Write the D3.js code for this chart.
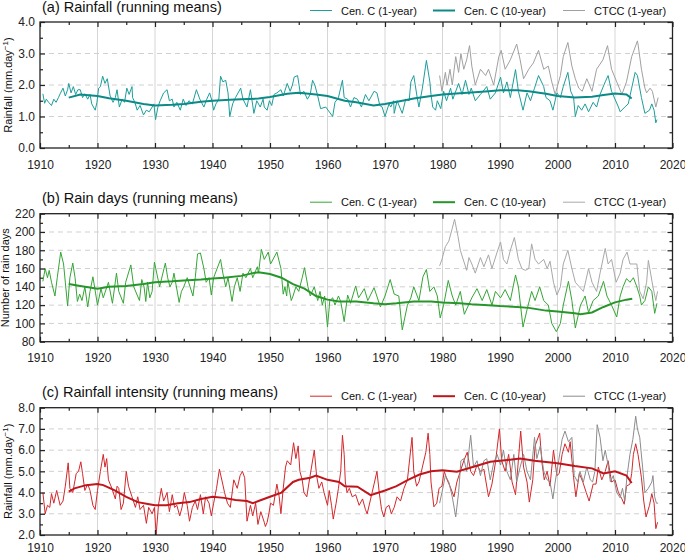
<!DOCTYPE html>
<html>
<head>
<meta charset="utf-8">
<script src="https://cdn.jsdelivr.net/npm/d3@7"></script>
<style>
  body { margin: 0; background: #fff; }
  svg { display: block; font-family: "Liberation Sans", Arial, sans-serif; }
</style>
</head>
<body>
<svg id="chart" width="685" height="555"></svg>
<script>
// ---- data: [year, value] ----
const rainCen1 = [[1910.5,1.72],[1910.8,1.42],[1911.1,1.55],[1911.5,1.45],[1912.0,1.35],[1912.4,1.55],[1912.8,1.45],[1913.2,1.6],[1913.5,1.72],[1914.0,1.9],[1914.4,1.65],[1914.8,1.85],[1915.0,2.05],[1915.4,1.75],[1915.8,1.95],[1916.2,1.7],[1916.6,1.85],[1917.0,1.85],[1917.4,1.6],[1917.8,1.72],[1918.3,1.55],[1918.7,1.7],[1919.0,1.4],[1919.6,1.2],[1919.9,1.45],[1920.2,1.9],[1920.5,1.95],[1920.9,2.28],[1921.3,2.05],[1921.7,2.2],[1922.2,1.65],[1922.7,1.45],[1923.1,1.6],[1923.4,1.85],[1923.8,1.3],[1924.3,1.55],[1924.7,1.45],[1925.1,1.9],[1925.5,1.7],[1926.0,1.95],[1926.1,1.6],[1926.5,1.45],[1926.9,1.2],[1927.4,1.35],[1928.0,1.05],[1928.5,1.2],[1929.0,1.15],[1929.5,1.3],[1929.8,1.4],[1930.1,0.9],[1930.5,1.3],[1930.9,1.5],[1931.5,1.75],[1932.1,1.85],[1932.5,1.5],[1933.0,1.55],[1933.3,1.3],[1933.8,1.45],[1934.4,1.2],[1934.9,1.55],[1935.4,1.35],[1935.9,1.5],[1936.5,1.4],[1937.2,1.85],[1937.8,1.55],[1938.5,1.3],[1939.0,1.55],[1939.5,1.75],[1939.9,1.5],[1940.2,1.2],[1940.6,1.4],[1941.1,1.55],[1941.4,2.28],[1941.8,2.1],[1942.3,2.15],[1942.7,1.75],[1943.0,1.0],[1943.5,1.4],[1944.0,1.6],[1944.9,1.9],[1945.3,1.55],[1946.0,1.3],[1946.6,1.85],[1947.2,1.1],[1947.7,1.5],[1948.3,1.3],[1948.8,1.55],[1949.0,1.3],[1949.5,1.2],[1949.9,1.5],[1950.3,1.35],[1950.7,1.7],[1951.2,1.75],[1951.9,1.85],[1952.3,1.65],[1953.0,2.05],[1953.5,1.8],[1953.9,2.0],[1954.2,2.25],[1954.8,2.3],[1955.3,1.7],[1955.9,1.8],[1956.5,1.55],[1957.0,1.7],[1957.4,2.15],[1957.8,2.0],[1958.3,1.65],[1958.8,1.25],[1959.7,1.3],[1960.9,1.0],[1961.3,1.45],[1961.9,1.6],[1962.6,2.15],[1962.9,1.6],[1963.5,1.55],[1964.0,1.3],[1964.6,1.6],[1965.2,1.55],[1965.9,1.3],[1966.6,1.7],[1967.2,1.5],[1968.1,1.8],[1968.6,1.75],[1969.1,1.35],[1969.5,1.3],[1970.0,1.0],[1970.7,1.4],[1971.0,1.3],[1971.5,1.5],[1971.6,1.1],[1972.1,1.5],[1973.0,1.1],[1973.6,1.55],[1974.2,1.5],[1974.5,2.1],[1975.0,2.3],[1975.6,1.6],[1975.9,1.3],[1976.5,1.9],[1977.2,2.78],[1977.8,2.1],[1978.0,1.7],[1978.3,1.3],[1978.8,1.2],[1979.1,1.5],[1979.7,1.25],[1980.2,1.8],[1980.7,1.5],[1981.4,1.9],[1981.8,1.55],[1982.8,2.05],[1983.4,1.7],[1984.0,2.15],[1984.6,1.7],[1985.0,1.9],[1985.7,1.5],[1986.6,1.7],[1987.7,1.95],[1988.3,1.55],[1989.2,1.75],[1990.1,2.25],[1990.6,1.75],[1991.2,2.1],[1991.8,1.6],[1992.7,2.49],[1993.2,1.8],[1994.0,1.2],[1994.7,1.75],[1995.3,1.5],[1996.0,1.9],[1996.7,2.3],[1997.6,1.95],[1998.0,1.6],[1998.7,1.5],[1999.2,1.2],[1999.9,1.75],[2000.5,1.6],[2001.0,1.95],[2001.8,2.4],[2002.3,1.8],[2002.8,1.6],[2003.1,1.0],[2003.6,1.35],[2004.2,1.2],[2004.8,1.4],[2005.4,1.15],[2006.2,1.45],[2006.8,1.3],[2007.4,1.7],[2008.3,2.1],[2008.8,2.3],[2009.4,1.8],[2010.6,1.3],[2010.9,1.15],[2011.7,1.3],[2012.3,1.4],[2012.9,1.9],[2013.5,2.4],[2013.9,2.3],[2014.6,1.6],[2015.2,1.1],[2016.0,1.2],[2016.4,1.4],[2016.8,1.2],[2017.1,0.8],[2017.3,0.9]];
const rainCen10 = [[1915,1.6],[1917,1.7],[1920,1.65],[1922,1.58],[1925,1.5],[1928,1.4],[1930,1.35],[1933,1.37],[1935,1.4],[1938,1.47],[1940,1.5],[1943,1.53],[1945,1.55],[1948,1.57],[1950,1.62],[1953,1.72],[1955,1.75],[1958,1.7],[1960,1.65],[1963,1.5],[1965,1.45],[1968,1.35],[1970,1.4],[1973,1.5],[1975,1.57],[1978,1.65],[1980,1.7],[1983,1.74],[1985,1.76],[1988,1.8],[1990,1.83],[1993,1.83],[1995,1.8],[1998,1.72],[2000,1.65],[2003,1.6],[2006,1.63],[2008,1.68],[2010,1.73],[2012,1.7],[2012.9,1.57]];
const rainCtcc = [[1979.5,2.3],[1979.9,1.8],[1980.5,2.4],[1980.8,2.0],[1981.3,2.5],[1981.7,2.0],[1982.3,2.9],[1982.8,2.4],[1983.2,3.0],[1983.7,2.5],[1984.2,2.8],[1984.7,3.25],[1985.1,2.6],[1985.7,2.0],[1986.6,2.5],[1987.5,2.3],[1988.0,2.5],[1988.9,2.0],[1989.8,2.9],[1990.2,3.1],[1990.9,2.5],[1991.8,2.8],[1992.9,3.3],[1993.5,2.8],[1994.1,2.2],[1995.0,2.5],[1995.8,2.7],[1996.7,3.1],[1997.6,2.5],[1998.4,2.6],[1999.0,2.1],[1999.6,1.7],[2000.5,2.3],[2001.0,2.9],[2001.8,3.35],[2002.5,2.6],[2003.1,2.2],[2003.7,1.9],[2004.3,1.8],[2005.1,2.2],[2006.0,1.8],[2006.8,2.5],[2007.9,2.8],[2008.7,3.25],[2009.4,2.5],[2010.3,2.1],[2011.2,1.7],[2012.0,2.1],[2012.9,2.9],[2013.9,3.4],[2014.0,3.3],[2014.6,2.5],[2015.2,1.9],[2015.5,1.75],[2016.1,1.9],[2016.5,1.8],[2017.1,1.3],[2017.5,1.6]];

const daysCen1 = [[1910.5,146],[1910.9,160],[1911.3,150],[1911.6,158],[1912.0,145],[1912.6,130],[1913.0,150],[1913.6,178],[1914.1,165],[1914.8,119],[1915.2,150],[1915.7,166],[1916.1,150],[1916.5,124],[1916.9,132],[1917.3,125],[1917.8,140],[1918.3,118],[1918.7,135],[1919.2,151],[1920.0,120],[1920.6,138],[1921.0,128],[1921.9,145],[1922.6,122],[1923.3,155],[1923.7,135],[1924.5,122],[1924.9,145],[1925.8,164],[1926.3,140],[1927.3,125],[1927.7,148],[1928.1,140],[1928.4,124],[1928.7,145],[1929.1,128],[1929.5,135],[1929.9,167],[1930.3,155],[1930.8,140],[1931.8,166],[1932.2,150],[1932.6,140],[1933.0,145],[1933.3,155],[1934.2,123],[1934.6,135],[1935.0,140],[1935.6,150],[1936.6,130],[1937.0,150],[1937.4,176],[1937.9,177],[1938.5,160],[1938.9,145],[1939.4,150],[1939.8,131],[1940.2,150],[1941.4,170],[1941.8,155],[1942.3,140],[1942.7,150],[1943.4,124],[1943.8,140],[1944.3,150],[1944.8,135],[1945.3,155],[1945.8,150],[1946.6,160],[1947.0,150],[1947.8,162],[1948.0,155],[1948.5,181],[1949.0,170],[1949.7,178],[1950.1,165],[1951.2,178],[1951.9,160],[1952.3,132],[1952.6,140],[1952.9,130],[1953.1,146],[1953.7,125],[1954.0,130],[1954.5,140],[1955.0,135],[1955.6,150],[1956.0,161],[1956.6,140],[1957.0,130],[1957.7,140],[1958.3,125],[1958.7,135],[1959.1,120],[1959.5,130],[1960.0,96],[1960.4,125],[1960.9,128],[1961.3,120],[1961.9,130],[1962.3,124],[1962.9,102],[1963.5,131],[1964.0,122],[1964.9,141],[1965.4,128],[1966.4,138],[1967.0,125],[1968.1,139],[1969.2,118],[1970.0,130],[1970.9,148],[1971.6,132],[1972.4,130],[1973.0,93],[1973.9,120],[1974.5,128],[1975.0,140],[1975.9,125],[1976.6,151],[1977.2,159],[1977.8,135],[1978.5,140],[1979.1,130],[1979.6,106],[1980.2,120],[1981.0,147],[1981.7,130],[1982.3,120],[1983.1,135],[1983.8,110],[1985.1,128],[1986.0,138],[1986.9,125],[1987.7,137],[1988.6,120],[1989.2,135],[1990.1,128],[1990.9,137],[1991.8,125],[1992.7,153],[1993.2,140],[1994.0,96],[1994.7,115],[1995.5,135],[1996.1,125],[1996.9,140],[1997.6,125],[1998.4,120],[1999.0,100],[1999.8,91],[2000.5,100],[2001.0,120],[2001.9,146],[2002.5,125],[2003.1,95],[2004.0,120],[2004.8,130],[2005.4,112],[2006.2,125],[2007.1,130],[2008.0,146],[2008.6,130],[2009.4,120],[2010.3,107],[2010.9,130],[2011.4,140],[2012.0,149],[2012.6,145],[2013.2,150],[2013.8,140],[2014.3,130],[2014.6,120],[2015.2,125],[2015.8,140],[2016.4,135],[2016.9,111],[2017.3,122]];
const daysCen10 = [[1915,143],[1917,141],[1920,138],[1922,140],[1925,141],[1928,143],[1930,145],[1933,146],[1935,147],[1938,148],[1940,149],[1942,150],[1945,152],[1947,155],[1948,156],[1950,154],[1952,150],[1954,143],[1956,138],[1958,130],[1960,126],[1962,124],[1965,124],[1968,122],[1970,121],[1972,122],[1975,124],[1978,124],[1980,123],[1983,122],[1985,121],[1988,120],[1990,119],[1993,118],[1995,117],[1998,114],[2000,113],[2003,111],[2004,110],[2006,112],[2008,118],[2010,123],[2012,126],[2013,127]];
const daysCtcc = [[1979.5,163],[1979.9,170],[1980.5,184],[1981.1,190],[1981.7,204],[1982.1,214],[1982.7,195],[1983.1,180],[1983.7,168],[1984.2,158],[1984.6,172],[1985.1,165],[1985.7,155],[1986.6,172],[1987.2,162],[1988.0,175],[1988.6,160],[1989.5,178],[1990.1,189],[1990.6,170],[1991.2,165],[1991.8,180],[1992.5,194],[1993.2,170],[1993.8,160],[1994.4,158],[1995.0,160],[1995.5,187],[1996.1,170],[1996.7,165],[1997.6,170],[1998.2,160],[1998.7,168],[1999.3,145],[1999.9,131],[2000.5,140],[2001.0,165],[2001.8,180],[2002.5,160],[2003.1,145],[2003.8,140],[2004.5,135],[2005.4,160],[2006.0,145],[2006.8,135],[2007.4,155],[2008.3,182],[2008.8,165],[2009.4,170],[2010.2,145],[2010.9,155],[2011.4,170],[2012.1,178],[2012.6,165],[2013.2,165],[2013.8,165],[2014.3,135],[2014.9,127],[2015.5,145],[2015.8,169],[2016.6,140],[2017.1,125],[2017.4,135]];

const intCen1 = [[1910.5,4.0],[1910.9,3.0],[1911.3,3.4],[1911.7,3.3],[1912.0,3.95],[1912.4,3.5],[1912.9,4.1],[1913.5,3.4],[1914.0,3.6],[1914.4,4.3],[1914.9,5.4],[1915.2,4.2],[1915.7,4.0],[1916.3,4.9],[1916.7,5.0],[1917.1,5.45],[1917.4,4.9],[1917.8,4.1],[1918.3,4.4],[1918.7,4.1],[1919.2,3.4],[1919.6,3.2],[1920.0,4.1],[1920.5,5.0],[1921.0,5.8],[1921.3,5.2],[1921.6,5.6],[1921.9,4.6],[1922.5,4.2],[1923.1,3.7],[1923.4,4.3],[1923.7,4.2],[1924.1,3.2],[1924.5,3.5],[1925.0,5.0],[1925.4,4.3],[1926.0,3.8],[1926.6,3.3],[1927.0,3.8],[1927.4,3.2],[1928.0,3.4],[1928.5,2.55],[1928.9,3.3],[1929.5,3.0],[1929.9,3.3],[1930.2,2.0],[1930.6,3.4],[1931.1,4.2],[1931.5,3.6],[1932.1,4.0],[1932.5,3.1],[1933.0,3.9],[1933.4,3.3],[1933.8,3.4],[1934.3,2.9],[1934.7,3.3],[1935.1,4.0],[1935.6,3.4],[1936.0,2.65],[1936.5,3.3],[1937.0,3.6],[1937.4,3.2],[1937.9,3.9],[1938.4,3.0],[1938.8,3.8],[1939.4,3.5],[1939.8,2.9],[1940.2,3.5],[1940.7,4.2],[1941.2,5.1],[1941.7,4.5],[1942.1,4.0],[1942.6,3.5],[1943.1,3.3],[1943.7,4.6],[1944.3,4.2],[1944.8,4.8],[1945.2,5.0],[1945.6,4.7],[1946.0,2.65],[1946.6,3.4],[1947.0,2.9],[1947.5,3.5],[1947.9,2.5],[1948.4,3.1],[1949.0,2.6],[1949.2,2.4],[1949.5,2.6],[1949.8,3.0],[1950.1,3.5],[1950.6,3.4],[1951.2,4.4],[1951.6,3.8],[1951.9,3.0],[1952.3,4.2],[1952.7,5.2],[1953.0,5.5],[1953.6,5.3],[1954.1,6.35],[1954.5,5.6],[1954.9,6.2],[1955.2,5.0],[1955.6,4.6],[1955.9,4.0],[1956.4,3.8],[1956.8,4.5],[1957.7,6.0],[1958.1,4.8],[1958.5,4.2],[1959.0,4.5],[1959.4,4.0],[1960.0,3.4],[1960.3,4.1],[1960.7,3.4],[1961.0,2.75],[1961.5,3.5],[1961.9,4.2],[1962.3,5.0],[1962.6,6.7],[1962.9,5.8],[1963.1,4.5],[1963.4,4.0],[1963.8,4.2],[1964.3,3.8],[1964.9,3.9],[1965.5,3.4],[1966.1,3.7],[1966.6,3.2],[1966.9,3.0],[1967.5,3.7],[1968.1,4.4],[1968.6,5.0],[1969.0,4.0],[1969.4,3.2],[1969.8,2.85],[1970.2,3.3],[1970.7,3.4],[1971.1,3.0],[1971.6,3.3],[1972.1,3.8],[1972.7,3.6],[1973.3,4.2],[1973.9,4.6],[1974.7,6.6],[1975.0,5.0],[1975.5,4.3],[1975.9,4.5],[1976.5,5.2],[1977.1,5.9],[1977.5,6.8],[1977.8,5.8],[1978.0,4.5],[1978.5,3.33],[1979.0,3.5],[1979.4,4.2],[1979.9,4.3],[1980.3,5.0],[1980.8,4.6],[1981.3,4.3],[1982.0,3.8],[1982.5,4.5],[1983.1,5.0],[1983.7,5.5],[1984.3,5.9],[1984.9,5.0],[1985.4,4.8],[1986.0,5.3],[1986.6,5.0],[1987.2,5.1],[1988.0,3.8],[1988.6,4.4],[1989.2,5.4],[1989.9,7.0],[1990.3,5.5],[1990.9,5.0],[1991.5,5.8],[1992.1,4.5],[1992.7,3.9],[1993.1,5.2],[1993.6,6.9],[1994.1,5.2],[1994.7,4.5],[1995.1,3.55],[1995.7,4.6],[1996.1,6.2],[1996.9,6.8],[1997.3,5.4],[1997.7,4.6],[1998.2,5.0],[1998.7,4.3],[1999.3,6.0],[1999.9,4.8],[2000.3,4.9],[2000.8,5.8],[2001.3,6.3],[2001.9,5.9],[2002.2,6.4],[2002.8,4.7],[2003.2,3.8],[2003.8,4.9],[2004.4,4.5],[2005.0,4.0],[2005.5,3.6],[2006.2,4.4],[2006.7,4.4],[2007.1,5.2],[2007.7,4.6],[2008.3,5.0],[2008.8,5.5],[2009.4,4.5],[2010.0,4.6],[2010.6,4.0],[2011.2,3.7],[2011.6,3.45],[2012.0,4.3],[2012.6,4.4],[2012.9,4.9],[2013.2,5.8],[2013.6,6.3],[2014.0,5.8],[2014.6,4.7],[2015.0,3.6],[2015.4,2.85],[2016.0,3.4],[2016.4,3.95],[2016.8,3.5],[2017.1,2.3],[2017.4,2.6]];
const intCen10 = [[1915,4.05],[1916,4.2],[1918,4.35],[1920,4.4],[1921,4.35],[1923,4.1],[1925,3.8],[1927,3.55],[1929,3.45],[1930,3.4],[1932,3.4],[1934,3.5],[1936,3.55],[1938,3.7],[1940,3.8],[1942,3.75],[1944,3.65],[1946,3.6],[1947,3.5],[1948,3.6],[1950,3.8],[1952,4.0],[1954,4.5],[1955,4.6],[1957,4.7],[1958,4.8],[1960,4.6],[1962,4.5],[1963,4.3],[1965.2,4.28],[1967.5,3.88],[1970,4.1],[1972,4.3],[1974,4.6],[1976,4.85],[1978,5.0],[1980,5.05],[1982.5,4.98],[1985.4,5.22],[1988.3,5.45],[1990,5.5],[1993.5,5.6],[1996,5.5],[2000,5.38],[2003,5.25],[2006,5.14],[2008,4.9],[2010,5.0],[2012,4.8],[2012.9,4.45]];
const intCtcc = [[1979.5,3.5],[1979.9,4.0],[1980.5,4.8],[1981.1,4.5],[1981.7,3.8],[1982.3,2.85],[1982.8,4.0],[1983.2,5.5],[1983.7,5.6],[1984.2,5.0],[1984.9,6.7],[1985.4,5.2],[1986.0,5.5],[1986.6,4.8],[1987.2,5.5],[1987.7,5.6],[1988.3,4.6],[1988.9,5.4],[1989.5,5.8],[1990.1,5.3],[1990.6,6.0],[1991.2,5.0],[1991.8,4.6],[1992.4,5.8],[1992.9,4.5],[1993.5,5.2],[1994.1,5.8],[1994.7,5.0],[1995.3,4.6],[1996.0,6.6],[1996.4,5.6],[1997.0,6.2],[1997.6,5.0],[1998.2,4.6],[1998.7,4.5],[1999.2,3.7],[1999.6,4.5],[2000.2,5.5],[2000.8,6.5],[2001.3,6.9],[2001.9,6.4],[2002.5,6.6],[2002.9,4.8],[2003.5,4.5],[2003.9,5.0],[2004.5,4.5],[2005.1,5.2],[2005.7,4.6],[2006.1,4.5],[2006.5,5.0],[2006.9,7.2],[2007.4,6.6],[2007.9,5.5],[2008.3,6.0],[2008.8,5.3],[2009.2,4.5],[2009.7,4.8],[2010.3,4.0],[2010.9,3.75],[2011.3,4.2],[2011.7,3.6],[2012.1,4.8],[2012.6,5.8],[2013.1,6.5],[2013.6,7.6],[2013.9,7.0],[2014.3,6.6],[2014.8,5.2],[2015.2,4.0],[2015.8,4.2],[2016.4,4.5],[2016.6,4.8],[2016.9,3.8],[2017.2,3.5],[2017.5,3.5]];

const legendNames = ["Cen. C (1-year)", "Cen. C (10-year)", "CTCC (1-year)"];
const xMajor = d3.range(1910, 2021, 10);
const xMinor = d3.range(1915, 2020, 10);

const panels = [
  { title: "(a) Rainfall (running means)", yLabel: "Rainfall (mm.day", sup: true,
    top: 22, bottom: 148, yDomain: [0, 4], yStep: 1, yMinorStep: 0.5, fmt: d3.format(".1f"), labelX: 12, pad: 12,
    c1: "#1c9e9b", c10: "#0b8a88", ctcc: "#a0a0a0", one: rainCen1, ten: rainCen10, other: rainCtcc },
  { title: "(b) Rain days (running means)", yLabel: "Number of rain days", sup: false,
    top: 213.7, bottom: 341.7, yDomain: [80, 220], yStep: 20, yMinorStep: 10, fmt: d3.format("d"), labelX: 9, pad: 12,
    c1: "#35a535", c10: "#27962a", ctcc: "#a8a8a8", one: daysCen1, ten: daysCen10, other: daysCtcc },
  { title: "(c) Rainfall intensity (running means)", yLabel: "Rainfall (mm.day", sup: true,
    top: 407.7, bottom: 535, yDomain: [2, 8], yStep: 1, yMinorStep: 0.5, fmt: d3.format(".1f"), labelX: 12, pad: 8.5,
    c1: "#d4272b", c10: "#bf161c", ctcc: "#8c8c8c", one: intCen1, ten: intCen10, other: intCtcc }
];

const svg = d3.select("#chart");
const x = d3.scaleLinear().domain([1910, 2020]).range([40, 672.5]);

function styleAxis(sel) {
  sel.select(".domain").remove();
  sel.selectAll(".tick line").attr("stroke", "#222").attr("stroke-width", 1.2);
  sel.selectAll(".tick text").attr("fill", "#222").attr("font-size", 12)
    .attr("font-family", "Liberation Sans, Arial, sans-serif");
}

panels.forEach(p => {
  const y = d3.scaleLinear().domain(p.yDomain).range([p.bottom, p.top]);
  const yMajor = d3.range(p.yDomain[0], p.yDomain[1] + p.yStep / 2, p.yStep);
  const yMinor = d3.range(p.yDomain[0] + p.yMinorStep, p.yDomain[1], p.yStep);
  const g = svg.append("g");

  // grid
  g.selectAll(null).data(xMajor.slice(1, -1)).join("line")
    .attr("x1", d => x(d)).attr("x2", d => x(d))
    .attr("y1", p.top).attr("y2", p.bottom)
    .attr("stroke", "#d6d6d6").attr("stroke-width", 1);
  g.selectAll(null).data(yMajor.slice(1, -1)).join("line")
    .attr("x1", x.range()[0]).attr("x2", x.range()[1])
    .attr("y1", d => y(d)).attr("y2", d => y(d))
    .attr("stroke", "#d0d0d0").attr("stroke-width", 1).attr("stroke-dasharray", "5,4");

  // series
  const line = d3.line().x(d => x(d[0])).y(d => y(d[1]));
  g.append("path").datum(p.one).attr("d", line)
    .attr("fill", "none").attr("stroke", p.c1).attr("stroke-width", 1);
  g.append("path").datum(p.other).attr("d", line)
    .attr("fill", "none").attr("stroke", p.ctcc).attr("stroke-width", 1);
  g.append("path").datum(p.ten).attr("d", line)
    .attr("fill", "none").attr("stroke", p.c10).attr("stroke-width", 2);

  // axes: ticks point inward
  g.append("g").attr("transform", `translate(0,${p.bottom})`)
    .call(d3.axisBottom(x).tickValues(xMajor).tickFormat(d3.format("d")).tickSize(-5).tickPadding(p.pad))
    .call(styleAxis);
  g.append("g").attr("transform", `translate(0,${p.bottom})`)
    .call(d3.axisBottom(x).tickValues(xMinor).tickFormat("").tickSize(-3)).call(styleAxis);
  g.append("g").attr("transform", `translate(0,${p.top})`)
    .call(d3.axisTop(x).tickValues(xMajor).tickFormat("").tickSize(-5)).call(styleAxis);
  g.append("g").attr("transform", `translate(0,${p.top})`)
    .call(d3.axisTop(x).tickValues(xMinor).tickFormat("").tickSize(-3)).call(styleAxis);

  g.append("g").attr("transform", `translate(${x.range()[0]},0)`)
    .call(d3.axisLeft(y).tickValues(yMajor).tickFormat(p.fmt).tickSize(-5).tickPadding(5))
    .call(styleAxis);
  g.append("g").attr("transform", `translate(${x.range()[0]},0)`)
    .call(d3.axisLeft(y).tickValues(yMinor).tickFormat("").tickSize(-3)).call(styleAxis);
  g.append("g").attr("transform", `translate(${x.range()[1]},0)`)
    .call(d3.axisRight(y).tickValues(yMajor).tickFormat("").tickSize(-5)).call(styleAxis);
  g.append("g").attr("transform", `translate(${x.range()[1]},0)`)
    .call(d3.axisRight(y).tickValues(yMinor).tickFormat("").tickSize(-3)).call(styleAxis);

  // frame
  g.append("rect")
    .attr("x", x.range()[0]).attr("y", p.top)
    .attr("width", x.range()[1] - x.range()[0]).attr("height", p.bottom - p.top)
    .attr("fill", "none").attr("stroke", "#222").attr("stroke-width", 1.3);

  // title
  g.append("text").attr("x", 42).attr("y", p.top - 10.5)
    .attr("font-size", 14.5).attr("fill", "#111").text(p.title);

  // y label
  const yl = g.append("text")
    .attr("transform", `translate(${p.labelX},${(p.top + p.bottom) / 2}) rotate(-90)`)
    .attr("text-anchor", "middle").attr("font-size", 11).attr("fill", "#111");
  yl.append("tspan").text(p.yLabel);
  if (p.sup) {
    yl.append("tspan").attr("dy", -4).attr("font-size", 8).text("\u22121");
    yl.append("tspan").attr("dy", 4).text(")");
  }

  // legend
  const legX = [310, 433, 563];
  const legColors = [p.c1, p.c10, p.ctcc];
  const legWidths = [1, 2, 1];
  const ly = p.top - 11.5;
  legendNames.forEach((name, i) => {
    g.append("line").attr("x1", legX[i]).attr("x2", legX[i] + 22)
      .attr("y1", ly).attr("y2", ly)
      .attr("stroke", legColors[i]).attr("stroke-width", legWidths[i]);
    g.append("text").attr("x", legX[i] + 31).attr("y", ly + 4)
      .attr("font-size", 11).attr("fill", "#111").text(name);
  });
});
</script>
</body>
</html>
